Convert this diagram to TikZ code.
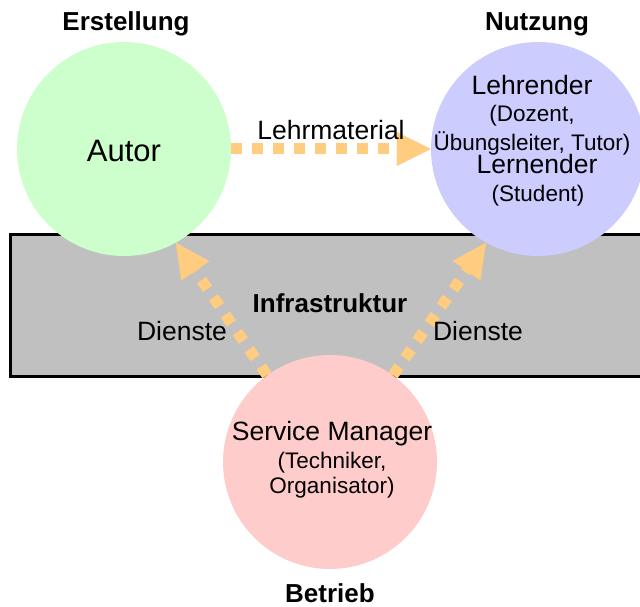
\documentclass[tikz,border=0pt]{standalone}
\usepackage{fontspec}
\setmainfont{Liberation Sans}
\usetikzlibrary{arrows.meta}

\definecolor{autorfill}{HTML}{CCFFCC}
\definecolor{nutzerfill}{HTML}{CCCCFF}
\definecolor{servicefill}{HTML}{FFCCCC}
\definecolor{infrafill}{HTML}{C0C0C0}
\definecolor{flowcol}{HTML}{FFCC80}

\tikzset{
  role/.style={circle, minimum size=214pt, inner sep=0pt, fill=#1, draw=none},
  bigtext/.style={anchor=base, inner sep=0pt, font=\fontsize{26.5}{30}\selectfont},
  smalltext/.style={anchor=base, inner sep=0pt, font=\fontsize{22.5}{26}\selectfont},
  headtext/.style={anchor=base, inner sep=0pt, font=\fontsize{26}{30}\selectfont\bfseries},
  flow/.style={draw=flowcol, line width=11pt, dash pattern=on 10.5pt off 10.5pt,
    -{Triangle[length=34pt, width=34pt, line width=0.1pt]}},
}

\begin{document}
\begin{tikzpicture}[x=1pt, y=-1pt]
  \useasboundingbox (0,0) rectangle (640,607);

  % infrastructure band
  \draw[fill=infrafill, line width=3pt] (10.5,234.5) rectangle (660,376);

  % roles
  \node[role=autorfill]   (autor)   at (124,149) {};
  \node[role=nutzerfill]  (nutzer)  at (538,149) {};
  \node[role=servicefill] (service) at (330,462) {};

  % headings
  \node[headtext] (erstellung) at (126,31)  {Erstellung};
  \node[headtext] (nutzung)    at (537,31)  {Nutzung};
  \node[headtext] (betrieb)    at (330,602) {Betrieb};
  \node[headtext] (infra)      at (330,312) {Infrastruktur};

  % texts inside the circles
  \node[anchor=base, inner sep=0pt, font=\fontsize{31}{35}\selectfont] (autortext) at (124,162) {Autor};

  \node[bigtext]   (lehrender) at (532,95)  {Lehrender};
  \node[smalltext] (dozent)    at (532,122) {(Dozent,};
  \node[smalltext] (uebung)    at (532,150) {Übungsleiter, Tutor)};
  \node[bigtext]   (lernender) at (537,174) {Lernender};
  \node[smalltext] (student)   at (538,201) {(Student)};

  \node[bigtext]   (servicetext) at (332,440) {Service Manager};
  \node[smalltext] (techniker)   at (332,468) {(Techniker,};
  \node[smalltext] (organisator) at (332,493) {Organisator)};

  % flows
  \draw[flow] (autor.east) -- (nutzer.west);
  \draw[flow] (service.126) -- (autor.-61.5);
  \draw[flow] (service.54) -- (nutzer.241.5);

  % flow labels
  \node[bigtext] (lehrmaterial) at (331,140) {Lehrmaterial};
  \node[bigtext] (diensteL)     at (182,340) {Dienste};
  \node[bigtext] (diensteR)     at (478,340) {Dienste};
\end{tikzpicture}
\end{document}
